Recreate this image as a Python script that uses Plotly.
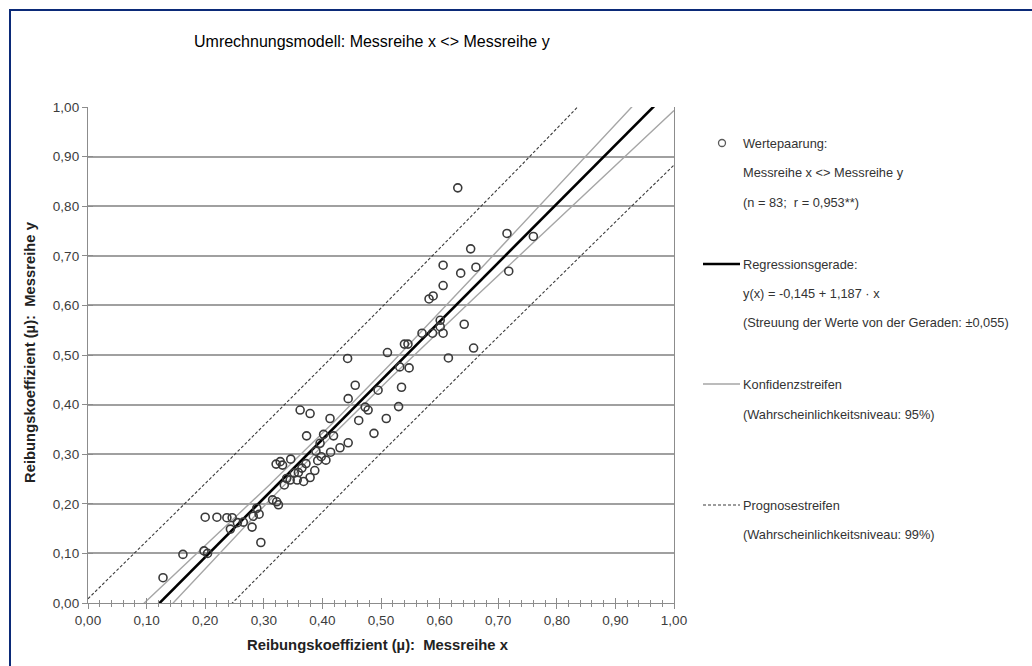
import numpy as np
import plotly.graph_objects as go

# ---- data ----
x_vals = [0.128, 0.162, 0.198, 0.204, 0.200, 0.220, 0.237, 0.246, 0.243, 0.255,
          0.265, 0.280, 0.282, 0.288, 0.292, 0.295, 0.321, 0.328, 0.332, 0.322,
          0.325, 0.339, 0.346, 0.359, 0.362, 0.372, 0.373, 0.379, 0.379, 0.387,
          0.389, 0.396, 0.402, 0.406, 0.413, 0.414, 0.419, 0.430, 0.443, 0.444,
          0.444, 0.456, 0.462, 0.473, 0.478, 0.488, 0.495, 0.509, 0.511, 0.530,
          0.532, 0.535, 0.540, 0.546, 0.548, 0.570, 0.582, 0.588, 0.589, 0.601,
          0.601, 0.606, 0.606, 0.606, 0.615, 0.631, 0.636, 0.642, 0.653, 0.658,
          0.662, 0.715, 0.718, 0.760, 0.335, 0.345, 0.352, 0.357, 0.365, 0.368,
          0.392, 0.398, 0.315]
y_vals = [0.051, 0.098, 0.105, 0.100, 0.173, 0.173, 0.172, 0.172, 0.149, 0.162,
          0.163, 0.153, 0.175, 0.191, 0.179, 0.122, 0.280, 0.285, 0.278, 0.204,
          0.198, 0.251, 0.290, 0.263, 0.389, 0.281, 0.337, 0.382, 0.253, 0.267,
          0.306, 0.322, 0.340, 0.288, 0.372, 0.304, 0.337, 0.313, 0.493, 0.412,
          0.323, 0.439, 0.368, 0.395, 0.389, 0.342, 0.429, 0.372, 0.505, 0.396,
          0.476, 0.435, 0.522, 0.522, 0.474, 0.544, 0.613, 0.544, 0.619, 0.570,
          0.557, 0.544, 0.640, 0.681, 0.494, 0.837, 0.665, 0.562, 0.714, 0.514,
          0.677, 0.745, 0.669, 0.739, 0.238, 0.248, 0.262, 0.248, 0.272, 0.245,
          0.287, 0.295, 0.208]

intercept = -0.145
slope = 1.187
s_resid = 0.055
t95 = 1.990
t99 = 2.638

tick_vals = [0.0, 0.1, 0.2, 0.3, 0.4, 0.5, 0.6, 0.7, 0.8, 0.9, 1.0]
tick_text = ["0,00", "0,10", "0,20", "0,30", "0,40", "0,50", "0,60", "0,70", "0,80", "0,90", "1,00"]

# ---- model lines ----
xa = np.array(x_vals)
n = len(xa)
xbar = xa.mean()
sxx = ((xa - xbar) ** 2).sum()
xl = np.linspace(0, 1, 201)
yl = intercept + slope * xl
conf = t95 * s_resid * np.sqrt(1 / n + (xl - xbar) ** 2 / sxx)
pred = t99 * s_resid * np.sqrt(1 + 1 / n + (xl - xbar) ** 2 / sxx)

fig = go.Figure()
GRAYC = "#a6a6a6"
DASHC = "#3a3a3a"
for yy in (yl + pred, yl - pred):
    fig.add_trace(go.Scatter(x=xl, y=yy, mode="lines", line=dict(color=DASHC, width=1.1, dash="3px,2px"),
                             showlegend=False, hoverinfo="skip"))
for yy in (yl + conf, yl - conf):
    fig.add_trace(go.Scatter(x=xl, y=yy, mode="lines", line=dict(color=GRAYC, width=1.4),
                             showlegend=False, hoverinfo="skip"))
fig.add_trace(go.Scatter(x=xl, y=yl, mode="lines", line=dict(color="#000000", width=2.6),
                         showlegend=False, hoverinfo="skip"))
fig.add_trace(go.Scatter(x=x_vals, y=y_vals, mode="markers",
                         marker=dict(symbol="circle-open", size=8, color="#3a3a3a", line=dict(width=1.6)),
                         showlegend=False))

# overlay axes for crossing ticks
fig.add_trace(go.Scatter(x=[None], y=[None], xaxis="x2", yaxis="y2", showlegend=False))

tickfont = dict(family="Liberation Sans, Arial, sans-serif", size=13.5, color="#3c3c3c")
AXC = "#8c8c8c"
fig.update_layout(
    width=1032, height=666,
    margin=dict(l=88, r=358, t=107, b=63),
    paper_bgcolor="white", plot_bgcolor="white",
    showlegend=False,
    xaxis=dict(range=[0, 1], tickvals=tick_vals, ticktext=tick_text, showgrid=False, zeroline=False,
               showline=True, linecolor=AXC, linewidth=1.3, ticks="outside", ticklen=5,
               tickcolor=AXC, tickfont=tickfont,
               minor=dict(dtick=0.02, ticks="outside", ticklen=3, tickcolor=AXC, showgrid=False)),
    yaxis=dict(range=[0, 1], tickvals=tick_vals, ticktext=tick_text, showgrid=True, gridcolor="#a0a0a0",
               gridwidth=1.6, zeroline=False, showline=True, linecolor=AXC, linewidth=1.3,
               ticks="outside", ticklen=5, tickcolor=AXC, tickfont=tickfont, mirror=True),
    xaxis2=dict(range=[0, 1], overlaying="x", anchor="y2", tickvals=tick_vals, showticklabels=False,
                showgrid=False, zeroline=False, ticks="inside", ticklen=5, tickcolor=AXC,
                minor=dict(dtick=0.02, ticks="inside", ticklen=3, tickcolor=AXC, showgrid=False)),
    yaxis2=dict(range=[0, 1], overlaying="y", anchor="x2", tickvals=tick_vals, showticklabels=False,
                showgrid=False, zeroline=False, ticks="inside", ticklen=5, tickcolor=AXC),
)

W_PLOT = 586.0
H_PLOT = 496.0


def px(xp):
    return (xp - 88) / W_PLOT


def py(yp):
    return (603 - yp) / H_PLOT


shapes = []
# outer navy frame
shapes.append(dict(type="rect", xref="paper", yref="paper", x0=px(10), x1=px(1100), y0=py(700), y1=py(10),
                   line=dict(color="#0b2a78", width=2), fillcolor="rgba(0,0,0,0)", layer="above"))
# legend samples
shapes.append(dict(type="line", xref="paper", yref="paper", x0=px(703), x1=px(740), y0=py(264), y1=py(264),
                   line=dict(color="#000000", width=2.6)))
shapes.append(dict(type="line", xref="paper", yref="paper", x0=px(703), x1=px(740), y0=py(384), y1=py(384),
                   line=dict(color=GRAYC, width=1.4)))
shapes.append(dict(type="line", xref="paper", yref="paper", x0=px(703), x1=px(740), y0=py(505), y1=py(505),
                   line=dict(color=DASHC, width=1.1, dash="3px,2px")))
shapes.append(dict(type="circle", xref="paper", yref="paper", x0=px(718.5), x1=px(725.5), y0=py(146.5), y1=py(139.5),
                   line=dict(color="#5a5a5a", width=1.3)))
fig.update_layout(shapes=shapes)

legend_lines = [
    ("Wertepaarung:", 143),
    ("Messreihe x <> Messreihe y", 172),
    ("(n = 83;  r = 0,953**)", 202),
    ("Regressionsgerade:", 264),
    ("y(x) = -0,145 + 1,187 · x", 293),
    ("(Streuung der Werte von der Geraden: ±0,055)", 322),
    ("Konfidenzstreifen", 384),
    ("(Wahrscheinlichkeitsniveau: 95%)", 414),
    ("Prognosestreifen", 505),
    ("(Wahrscheinlichkeitsniveau: 99%)", 534),
]
annotations = []
for txt, yp in legend_lines:
    annotations.append(dict(text=txt.replace("  ", "&nbsp; "), xref="paper", yref="paper", x=px(741), y=py(yp),
                            xanchor="left", yanchor="middle", showarrow=False,
                            font=dict(family="Liberation Sans, Arial, sans-serif", size=12.8, color="#333333")))
annotations.append(dict(text="Umrechnungsmodell: Messreihe x <> Messreihe y", xref="paper", yref="paper",
                        x=px(372), y=py(42), xanchor="center", yanchor="middle", showarrow=False,
                        font=dict(family="Liberation Sans Narrow, Liberation Sans, Arial, sans-serif", size=16,
                                  color="#000000")))
annotations.append(dict(text="<b>Reibungskoeffizient (µ):&nbsp; Messreihe x</b>", xref="paper", yref="paper",
                        x=px(378), y=py(645), xanchor="center", yanchor="middle", showarrow=False,
                        font=dict(family="Liberation Sans, Arial, sans-serif", size=14.8, color="#222222")))
annotations.append(dict(text="<b>Reibungskoeffizient (µ):&nbsp; Messreihe y</b>", xref="paper", yref="paper",
                        x=px(30), y=py(352), xanchor="center", yanchor="middle", showarrow=False, textangle=-90,
                        font=dict(family="Liberation Sans, Arial, sans-serif", size=14.8, color="#222222")))
fig.update_layout(annotations=annotations)

fig.write_html("out.html")
